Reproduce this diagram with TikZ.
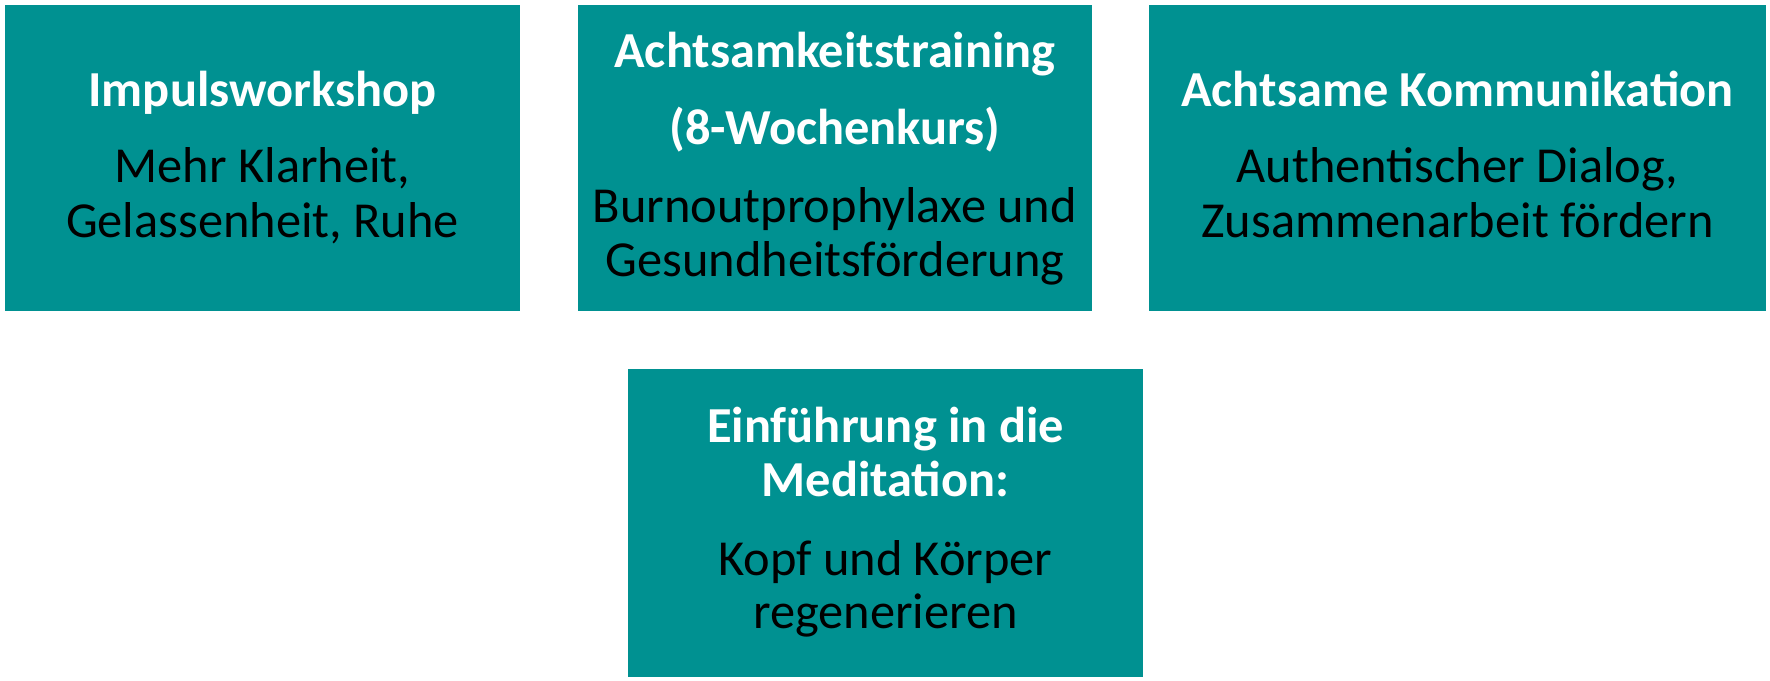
\documentclass[tikz,border=0pt]{standalone}
\usepackage{fontspec}
\setmainfont{Carlito}
\usepackage{tikz}
\usetikzlibrary{positioning}
\definecolor{teal}{RGB}{0,145,145}

\begin{document}
\begin{tikzpicture}[x=0.75pt, y=-0.75pt,
	box/.style={fill=teal, draw=none, inner sep=0pt, minimum height=229.5pt},
	head/.style={anchor=base, inner sep=0pt, text=white, font=\fontsize{37.8}{45}\selectfont\bfseries},
	body/.style={anchor=base, inner sep=0pt, text=black, font=\fontsize{37.8}{45}\selectfont}]
	\useasboundingbox (0,0) rectangle (1770,681);
	% boxes
	\node[box, minimum width=386.25pt] (impuls) at (262.5,158) {};
	\node[box, minimum width=385.5pt] (training) at (835,158) {};
	\node[box, minimum width=462.75pt] (kommunikation) at (1457.5,158) {};
	\node[box, minimum width=386.25pt, minimum height=231pt] (meditation) at (885.5,523) {};
	% texts
	\node[head] (impuls-t) at (262.5,107) {Impulsworkshop};
	\node[body] (impuls-b1) at (262.5,183) {Mehr Klarheit,};
	\node[body] (impuls-b2) at (262.5,238) {Gelassenheit, Ruhe};
	\node[head] (training-t1) at (835,68) {Achtsamkeitstraining};
	\node[head] (training-t2) at (835,145) {(8-Wochenkurs)};
	\node[body] (training-b1) at (835,222) {Burnoutprophylaxe und};
	\node[body] (training-b2) at (835,276) {Gesundheitsförderung};
	\node[head] (kommunikation-t) at (1457.5,107) {Achtsame Kommunikation};
	\node[body] (kommunikation-b1) at (1457.5,183) {Authentischer Dialog,};
	\node[body] (kommunikation-b2) at (1457.5,238) {Zusammenarbeit fördern};
	\node[head] (meditation-t1) at (885.5,442) {Einführung in die};
	\node[head] (meditation-t2) at (885.5,496) {Meditation:};
	\node[body] (meditation-b1) at (885.5,575) {Kopf und Körper};
	\node[body] (meditation-b2) at (885.5,628) {regenerieren};
\end{tikzpicture}
\end{document}
